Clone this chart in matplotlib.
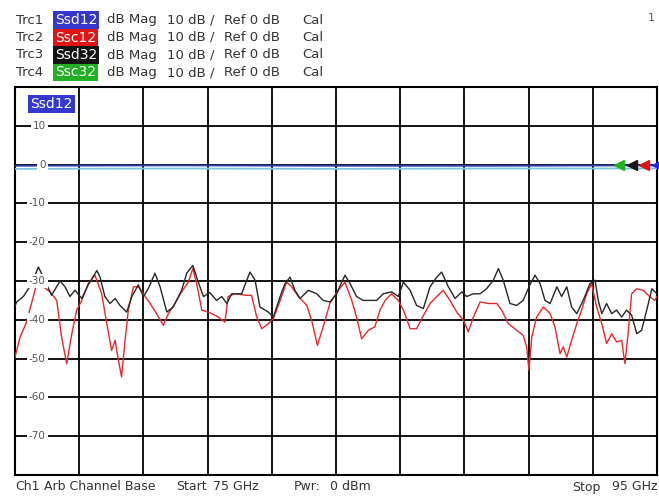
import numpy as np
import matplotlib
matplotlib.use("Agg")
import matplotlib.pyplot as plt
import matplotlib.transforms as mtransforms

plt.rcParams['font.family'] = ['DejaVu Sans']

W, H = 659, 497

# frequency axis (GHz) and trace data (dB)
f_start, f_stop = 75, 95
y_bottom, y_top = -80, 20
y_ticks = [10, 0, -10, -20, -30, -40, -50, -60, -70]

ssd12_f = [75, 80, 85, 90, 95]
ssd12_db = [-0.3, -0.2, -0.3, -0.3, -0.2]
ssc32_f = [75, 80, 85, 90, 95]
ssc32_db = [-1.1, -1.0, -1.1, -1.0, -1.0]

ssd32_f = [75.00, 75.05, 75.26, 75.52, 75.73, 75.88, 76.14, 76.40, 76.56, 76.71, 76.87,
           77.08, 77.28, 77.55, 77.65, 77.80, 77.96, 78.12, 78.27, 78.48, 78.64, 78.84,
           79.00, 79.15, 79.36, 79.52, 79.73, 79.93, 80.19, 80.35, 80.54, 80.71, 80.87,
           81.07, 81.28, 81.44, 81.60, 81.75, 82.06, 82.22, 82.32, 82.48, 82.63, 82.89,
           83.05, 83.26, 83.41, 83.57, 83.72, 83.88, 84.14, 84.40, 84.60, 84.81, 85.02,
           85.18, 85.28, 85.44, 85.64, 85.85, 86.06, 86.27, 86.47, 86.73, 86.94, 87.10,
           87.31, 87.51, 87.72, 87.93, 88.14, 88.29, 88.50, 88.71, 88.92, 89.07, 89.28,
           89.49, 89.69, 89.90, 90.06, 90.21, 90.42, 90.63, 90.83, 91.04, 91.20, 91.36,
           91.51, 91.67, 91.88, 92.03, 92.19, 92.34, 92.50, 92.70, 92.91, 93.07, 93.17,
           93.28, 93.43, 93.59, 93.74, 93.90, 94.05, 94.21, 94.37, 94.52, 94.68, 94.84,
           95.00]
ssd32_db = [-36.5, -35.4, -34.0, -30.7, -26.4, -29.0, -33.7, -30.0, -31.5, -34.0, -32.4,
            -34.5, -31.0, -27.3, -29.0, -34.0, -35.8, -34.5, -36.3, -38.0, -34.0, -31.0,
            -34.0, -32.0, -28.0, -31.5, -38.0, -36.7, -32.4, -28.0, -26.0, -30.3, -34.0,
            -33.0, -35.0, -34.0, -35.8, -33.3, -33.3, -29.8, -27.7, -29.8, -36.7, -38.0,
            -39.3, -34.0, -30.7, -29.0, -32.4, -34.5, -32.4, -33.3, -35.0, -35.4, -33.3,
            -30.3, -28.5, -30.7, -34.0, -35.0, -35.0, -35.0, -33.3, -32.8, -34.0, -30.3,
            -32.4, -36.3, -37.1, -31.5, -29.0, -27.7, -31.5, -34.5, -32.8, -34.0, -33.3,
            -33.3, -32.0, -29.8, -26.8, -29.8, -35.8, -36.3, -35.0, -31.0, -28.5, -30.7,
            -35.0, -35.8, -31.5, -34.0, -31.5, -36.7, -38.4, -35.0, -30.7, -29.8, -35.0,
            -38.4, -35.8, -38.4, -37.5, -39.3, -37.5, -38.8, -43.6, -42.7, -37.5, -32.0,
            -33.3]

ssc12_f = [75.00, 75.16, 75.36, 75.57, 75.73, 75.88, 76.09, 76.30, 76.45, 76.61, 76.77,
           76.92, 77.08, 77.28, 77.49, 77.70, 77.86, 78.01, 78.12, 78.22, 78.32, 78.43,
           78.53, 78.69, 78.84, 79.00, 79.21, 79.41, 79.62, 79.78, 79.98, 80.19, 80.40,
           80.54, 80.66, 80.82, 81.02, 81.28, 81.54, 81.64, 81.85, 82.22, 82.37, 82.53,
           82.69, 82.89, 83.05, 83.26, 83.46, 83.62, 83.83, 84.09, 84.24, 84.42, 84.60,
           84.81, 85.07, 85.28, 85.49, 85.64, 85.80, 86.01, 86.21, 86.37, 86.53, 86.73,
           86.94, 87.10, 87.31, 87.51, 87.67, 87.93, 88.14, 88.34, 88.55, 88.76, 88.97,
           89.12, 89.28, 89.49, 89.74, 90.01, 90.16, 90.37, 90.63, 90.83, 90.94, 91.01,
           91.10, 91.25, 91.46, 91.67, 91.82, 91.98, 92.08, 92.19, 92.34, 92.50, 92.65,
           92.81, 92.96, 93.12, 93.28, 93.43, 93.59, 93.74, 93.90, 94.00, 94.11, 94.21,
           94.37, 94.57, 94.77, 94.93, 95.00]
ssc12_db = [-49.6, -44.4, -40.6, -34.0, -29.0, -31.5, -32.8, -35.0, -44.4, -51.3, -43.6,
            -37.5, -35.0, -30.7, -28.5, -33.3, -41.0, -47.9, -45.3, -50.4, -54.7, -45.3,
            -37.5, -31.5, -31.5, -33.3, -35.8, -38.4, -41.4, -38.4, -35.8, -32.8, -30.3,
            -26.8, -30.7, -37.5, -38.0, -39.0, -40.6, -34.0, -33.3, -33.7, -33.7, -39.3,
            -42.3, -41.0, -39.7, -35.0, -30.3, -31.5, -34.0, -36.3, -40.1, -46.6, -41.8,
            -35.8, -32.4, -30.3, -35.0, -39.3, -44.9, -42.7, -41.8, -37.5, -35.0, -33.3,
            -35.0, -37.5, -42.3, -42.3, -39.7, -35.8, -34.0, -32.4, -35.0, -38.0, -40.1,
            -43.1, -39.3, -35.4, -35.8, -35.8, -37.5, -41.0, -42.7, -44.0, -47.0, -53.0,
            -44.4, -39.3, -36.7, -38.4, -41.8, -48.7, -47.0, -49.6, -45.3, -41.0, -37.5,
            -33.3, -30.7, -36.7, -41.0, -46.1, -43.6, -45.7, -45.3, -51.3, -42.7, -33.3,
            -32.0, -32.4, -34.0, -35.0, -34.0]

header_rows = [
    ("Trc1", "Ssd12", "#3636c8"),
    ("Trc2", "Ssc12", "#e01414"),
    ("Trc3", "Ssd32", "#141414"),
    ("Trc4", "Ssc32", "#22b022"),
]
header_fmt = ["dB Mag", "10 dB /", "Ref 0 dB", "Cal"]
footer_left = ["Ch1", "Arb Channel Base", "Start", "75 GHz", "Pwr:", "0 dBm", "Stop"]
footer_right = "95 GHz"
ref_level = 0

fig = plt.figure(figsize=(W / 100, H / 100), dpi=100)
fig.patch.set_facecolor("white")

def px(x, y):
    return x / W, 1 - y / H

ax = fig.add_axes([15 / W, (H - 475) / H, (657 - 15) / W, (475 - 87) / H])
ax.set_xlim(f_start, f_stop)
ax.set_ylim(y_bottom, y_top)
ax.set_xticks(np.arange(f_start + 2, f_stop, 2))
ax.set_yticks(y_ticks)
ax.grid(True, color="black", lw=1.3)
ax.tick_params(length=0, labelbottom=False, labelleft=False)
for s in ax.spines.values():
    s.set_linewidth(1.5)

# traces
ax.plot(ssc32_f, ssc32_db, color="#7cc4dc", lw=1.3, zorder=3)
ax.plot(ssd12_f, ssd12_db, color="#2a3aa8", lw=1.3, zorder=3)
ax.plot(ssc12_f, ssc12_db, color="#e82828", lw=1.0, zorder=3)
ax.plot(ssd32_f, ssd32_db, color="#262626", lw=1.0, zorder=4)

# reference level arrows at right edge (green, black, red, blue)
ref_colors = ["#22b022", "#141414", "#e01414", "#2a2ae0"]
for i, c in enumerate(ref_colors):
    ax.plot(f_stop - (3 - i) * 0.39, ref_level, marker="<", ms=6.5, color=c,
            clip_on=False, zorder=5)

# y labels sit inside the grid with white background
trans = mtransforms.blended_transform_factory(ax.transAxes, ax.transData)
for v in y_ticks:
    ax.text(0.048, v, str(v), transform=trans, ha="right", va="center",
            fontsize=7.5, color="#555555", zorder=6,
            bbox=dict(boxstyle="square,pad=0.2", fc="white", ec="none"))

ax.text(0.024, 0.957, "Ssd12", transform=ax.transAxes, ha="left", va="center",
        fontsize=10, color="white", zorder=6,
        bbox=dict(boxstyle="square,pad=0.15", fc="#3636d0", ec="none"))

# header lines
for k, (trc, name, col) in enumerate(header_rows):
    y = 20 + k * 17.5
    fig.text(*px(16, y), trc, fontsize=9.5, color="#333333", va="center", ha="left")
    fig.text(*px(55, y), name, fontsize=10, color="white",
             va="center", ha="left",
             bbox=dict(boxstyle="square,pad=0.12", fc=col, ec="none"))
    for xx, t in zip([107, 167, 224, 302], header_fmt):
        fig.text(*px(xx, y), t, fontsize=9.5, color="#333333", va="center", ha="left")

fig.text(*px(655, 18), "1", fontsize=8, color="#555555", va="center", ha="right")

# footer line
for xx, t in zip([15, 44, 176, 213, 294, 330, 572], footer_left):
    fig.text(*px(xx, 487), t, fontsize=9, color="#333333", va="center", ha="left")
fig.text(*px(658, 487), footer_right, fontsize=9, color="#333333", va="center", ha="right")

fig.savefig("out.png", dpi=100, facecolor="white")
